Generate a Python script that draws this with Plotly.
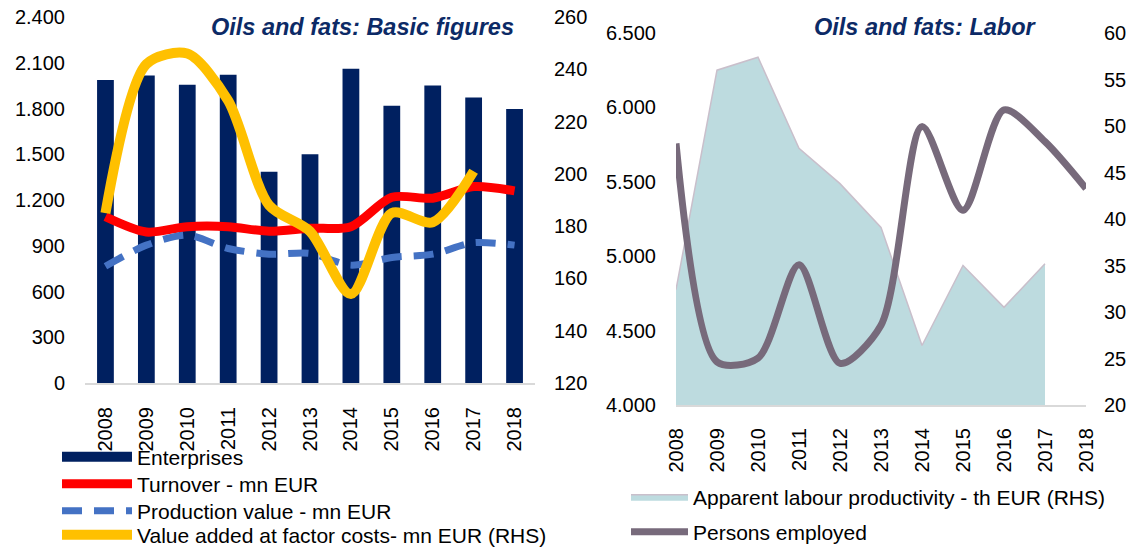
import plotly.graph_objects as go

years = ["2008", "2009", "2010", "2011", "2012", "2013", "2014", "2015", "2016", "2017", "2018"]

# Left chart: Oils and fats - basic figures
enterprises = [1987, 2016, 1956, 2021, 1386, 1500, 2061, 1818, 1951, 1872, 1796]
turnover = [1090, 990, 1025, 1025, 995, 1015, 1025, 1218, 1212, 1288, 1260]
production_value = [766, 904, 970, 882, 845, 850, 773, 823, 845, 920, 904]
value_added = [185, 242, 246, 228, 188, 178, 154, 185, 181.5, 201, None]

left_ticks = [0, 300, 600, 900, 1200, 1500, 1800, 2100, 2400]
left_ticktext = ["0", "300", "600", "900", "1.200", "1.500", "1.800", "2.100", "2.400"]
rhs1_ticks = [120, 140, 160, 180, 200, 220, 240, 260]

# Right chart: Oils and fats - labour
labour_productivity = [32.4, 56.0, 57.4, 47.6, 43.8, 39.1, 26.4, 35.0, 30.5, 35.2, None]
persons_employed = [5758, 4290, 4315, 4943, 4280, 4536, 5871, 5309, 5983, 5770, 5455]

right_ticks = [4000, 4500, 5000, 5500, 6000, 6500]
right_ticktext = ["4.000", "4.500", "5.000", "5.500", "6.000", "6.500"]
rhs2_ticks = [20, 25, 30, 35, 40, 45, 50, 55, 60]

FONT = "Liberation Sans, Arial, sans-serif"
W, H = 1129, 549
NAVY = "#002060"

fig = go.Figure()

fig.add_trace(go.Bar(x=years, y=enterprises, name="Enterprises",
                     marker=dict(color=NAVY, line=dict(width=0)),
                     width=0.41, xaxis="x", yaxis="y", showlegend=False))
# legend entry for the bars, drawn as a wide block like the original
fig.add_trace(go.Scatter(x=[None], y=[None], name="Enterprises", mode="lines",
                         line=dict(color=NAVY, width=12), xaxis="x", yaxis="y",
                         legend="legend", hoverinfo="skip"))
fig.add_trace(go.Scatter(x=years, y=turnover, name="Turnover - mn EUR", mode="lines",
                         line=dict(color="#FF0000", width=9, shape="spline", smoothing=0.8),
                         xaxis="x", yaxis="y", legend="legend3"))
fig.add_trace(go.Scatter(x=years, y=production_value, name="Production value - mn EUR", mode="lines",
                         line=dict(color="#4472C4", width=7, shape="spline", smoothing=0.8,
                                   dash="20px,12px"),
                         xaxis="x", yaxis="y", legend="legend4"))
fig.add_trace(go.Scatter(x=years, y=value_added, name="Value added at factor costs- mn EUR (RHS)",
                         mode="lines",
                         line=dict(color="#FFC000", width=10, shape="spline", smoothing=0.8),
                         xaxis="x", yaxis="y2", legend="legend5"))

fig.add_trace(go.Scatter(x=years, y=labour_productivity,
                         name="Apparent labour productivity - th EUR (RHS)",
                         mode="lines", fill="tozeroy", fillcolor="#BDDBDF",
                         line=dict(color="#C9BFCB", width=1.5),
                         xaxis="x2", yaxis="y3", legend="legend2"))
fig.add_trace(go.Scatter(x=years, y=persons_employed, name="Persons employed", mode="lines",
                         line=dict(color="#776A7B", width=7, shape="spline", smoothing=0.8),
                         xaxis="x2", yaxis="y4", legend="legend6"))

tickfont = dict(family=FONT, size=20, color="#000000")
legfont = dict(family=FONT, size=21, color="#000000")


def px_x(a, b):
    return [a / W, b / W]


def px_y(top, bottom):
    return [1 - bottom / H, 1 - top / H]


def leg(xpx, ypx, itemwidth):
    return dict(x=xpx / W, y=1 - ypx / H, xanchor="left", yanchor="middle",
                orientation="v", font=legfont, bgcolor="rgba(0,0,0,0)",
                itemwidth=itemwidth, tracegroupgap=0)


fig.update_layout(
    width=W, height=H,
    margin=dict(l=0, r=0, t=0, b=0, autoexpand=False),
    paper_bgcolor="white", plot_bgcolor="white",
    font=dict(family=FONT, size=20, color="#000000"),
    xaxis=dict(domain=px_x(85, 535), type="category", tickangle=-90, showgrid=False,
               showline=True, linecolor="#D9D9D9", linewidth=2, ticks="",
               tickfont=tickfont, ticklabelstandoff=14, anchor="y", zeroline=False),
    yaxis=dict(domain=px_y(17, 383), range=[0, 2400], tickvals=left_ticks,
               ticktext=left_ticktext, showgrid=False, zeroline=False, showline=False,
               tickfont=tickfont, ticklabelstandoff=19, anchor="x"),
    yaxis2=dict(domain=px_y(17, 383), range=[120, 260], tickvals=rhs1_ticks,
                overlaying="y", side="right", showgrid=False, zeroline=False,
                tickfont=tickfont, ticklabelstandoff=18, anchor="x"),
    xaxis2=dict(domain=px_x(676, 1086), type="category", tickangle=-90, showgrid=False,
                showline=True, linecolor="#D9D9D9", linewidth=2, ticks="",
                tickfont=tickfont, ticklabelstandoff=13, anchor="y3", zeroline=False),
    yaxis3=dict(domain=px_y(33, 405), range=[20, 60], tickvals=rhs2_ticks,
                side="right", showgrid=False, zeroline=False,
                tickfont=tickfont, ticklabelstandoff=17, anchor="x2"),
    yaxis4=dict(domain=px_y(33, 405), range=[4000, 6500], tickvals=right_ticks,
                ticktext=right_ticktext, overlaying="y3", side="left", showgrid=False,
                zeroline=False, tickfont=tickfont, ticklabelstandoff=19, anchor="x2"),
    legend=leg(57, 457, 70),
    legend3=leg(57, 484, 70),
    legend4=leg(57, 511, 70),
    legend5=leg(57, 535, 70),
    legend2=leg(626, 497, 57),
    legend6=leg(626, 532, 57),
    showlegend=True,
    annotations=[
        dict(text="<b><i>Oils and fats: Basic figures</i></b>", x=362 / W, y=1 - 27 / H,
             xref="paper", yref="paper", xanchor="center", yanchor="middle", showarrow=False,
             font=dict(family=FONT, size=23.5, color="#0C2A66")),
        dict(text="<b><i>Oils and fats: Labor</i></b>", x=925 / W, y=1 - 27 / H,
             xref="paper", yref="paper", xanchor="center", yanchor="middle", showarrow=False,
             font=dict(family=FONT, size=23.5, color="#0C2A66")),
    ],
)

fig.write_html("out.html", config={"displayModeBar": False},
               post_script="document.body.style.margin='0';")
